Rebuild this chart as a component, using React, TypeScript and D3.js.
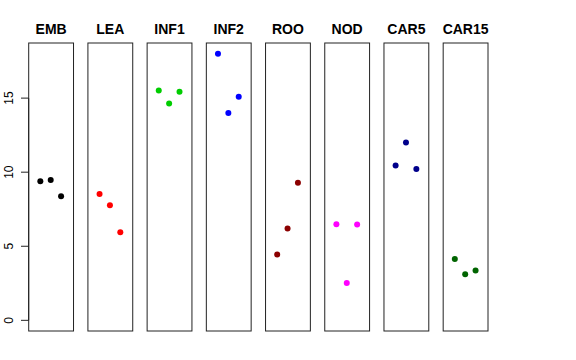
import React from "react";
import * as d3 from "d3";

// one panel per tissue, three replicates each
const tissues = ["EMB", "LEA", "INF1", "INF2", "ROO", "NOD", "CAR5", "CAR15"];
const tissueColors = ["#000000", "#FF0000", "#00CD00", "#0000FF", "#8B0000", "#FF00FF", "#00008B", "#006400"];

const embValues = [9.39, 9.48, 8.38];
const leaValues = [8.53, 7.77, 5.95];
const inf1Values = [15.52, 14.64, 15.43];
const inf2Values = [18.0, 13.99, 15.09];
const rooValues = [4.44, 6.2, 9.28];
const nodValues = [6.49, 2.52, 6.47];
const car5Values = [10.45, 12.0, 10.22];
const car15Values = [4.14, 3.11, 3.36];

const replicates = [1, 2, 3];
const yTicks = [0, 5, 10, 15];

const allValues = [embValues, leaValues, inf1Values, inf2Values, rooValues, nodValues, car5Values, car15Values];

const W = 576;
const H = 360;
const font = "'Liberation Sans', Arial, Helvetica, sans-serif";

export default function App() {
  const top = 43;
  const bottom = 331;

  // R style 4% extension around ylim c(0, 18)
  const y = d3.scaleLinear().domain([-0.72, 18.72]).range([bottom, top]);

  const panel = d3.scaleBand<string>()
    .domain(tissues)
    .range([28.7, 488])
    .paddingInner(0.243)
    .paddingOuter(0);

  const bw = panel.bandwidth();
  const x = d3.scaleLinear().domain([-0.16, 4.16]).range([0, bw]);

  return (
    <svg width={W} height={H} style={{ position: "absolute", left: 0, top: 0, background: "#fff" }}
      fontFamily={font}>
      {tissues.map((t, i) => {
        const left = panel(t)!;
        return (
          <g key={t} transform={`translate(${left},0)`}>
            <rect x={0} y={top} width={bw} height={bottom - top} fill="none" stroke="#222" strokeWidth={1} />
            <text x={bw / 2} y={33.5} textAnchor="middle" fontWeight="bold" fontSize={14}>{t}</text>
            {allValues[i].map((v, j) => (
              <circle key={j} cx={x(replicates[j]) - 0.4} cy={y(v)} r={3} fill={tissueColors[i]} />
            ))}
          </g>
        );
      })}
      <g>
        <line x1={28.7} x2={28.7} y1={y(0)} y2={y(15)} stroke="#222" />
        {yTicks.map(t => (
          <g key={t}>
            <line x1={21} x2={28.7} y1={y(t)} y2={y(t)} stroke="#222" />
            <text transform={`translate(13,${y(t)}) rotate(-90)`} textAnchor="middle" fontSize={12}>{t}</text>
          </g>
        ))}
      </g>
    </svg>
  );
}
